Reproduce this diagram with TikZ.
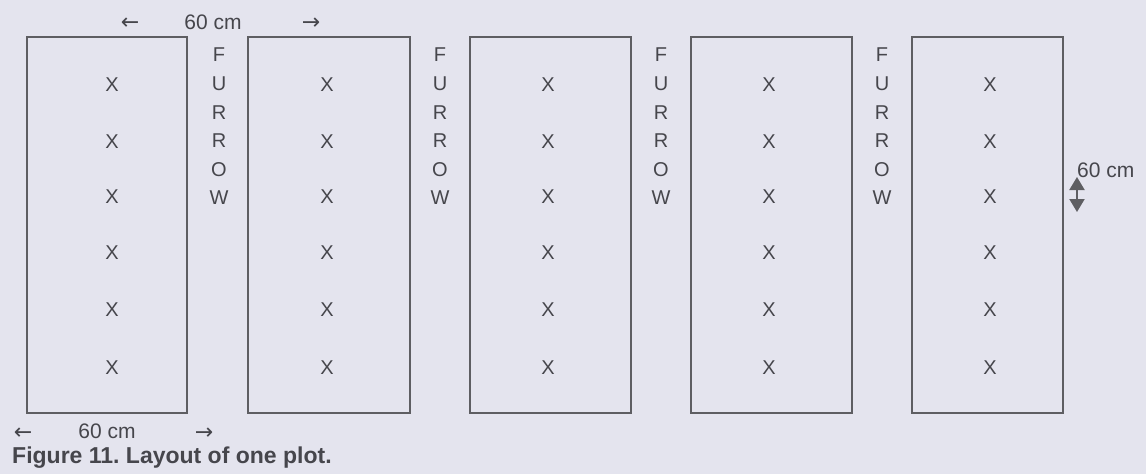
\documentclass[tikz,border=0pt]{standalone}
\usepackage{fontspec}
\setmainfont{Liberation Sans}
\newfontfamily\arrowfont{DejaVu Sans}
\usetikzlibrary{arrows.meta}
\definecolor{bg}{HTML}{E4E4EE}
\definecolor{ln}{HTML}{5E5E62}
\definecolor{tx}{HTML}{46464C}
\begin{document}
\frenchspacing
\begin{tikzpicture}[x=1pt,y=-1pt,
  plotbox/.style={draw=ln,line width=1.8pt,inner sep=0pt,minimum height=376pt},
  xmarktxt/.style={text=tx,font=\fontsize{20}{22}\selectfont,inner sep=0pt},
  furrowtxt/.style={text=tx,font=\fontsize{20}{28.6}\selectfont,align=center,inner sep=0pt,anchor=north},
  lbl/.style={text=tx,font=\fontsize{21}{24}\selectfont,inner sep=0pt},
  arr/.style={text=tx,font=\arrowfont\fontsize{22}{24}\selectfont,inner sep=0pt},
  captiontxt/.style={text=tx,font=\bfseries\fontsize{23}{26}\selectfont,inner sep=0pt,anchor=west}]
\fill[bg] (0,0) rectangle (1146,474);
\useasboundingbox (0,0) rectangle (1146,474);
% plots
\node[plotbox,minimum width=160pt] (p1) at (107,225) {};
\node[plotbox,minimum width=162pt] (p2) at (329,225) {};
\node[plotbox,minimum width=161pt] (p3) at (550.5,225) {};
\node[plotbox,minimum width=161pt] (p4) at (771.5,225) {};
\node[plotbox,minimum width=151pt] (p5) at (987.5,225) {};
% X marks
\foreach \c/\xx in {1/112,2/327,3/548,4/769,5/990}{
  \foreach \r/\yy in {1/85,2/142,3/197,4/253,5/310,6/368}{
    \node[xmarktxt] (x\c\r) at (\xx,\yy) {X};
  }
}
% furrows
\foreach \f/\xx in {1/219,2/440,3/661,4/882}{
  \node[furrowtxt] (f\f) at (\xx,48) {F\\U\\R\\R\\O\\W};
}
% top dimension
\node[lbl] (topdim) at (213,22) {60 cm};
\node[arr] (tl) at (130,24) {←};
\node[arr] (tr) at (311,24) {→};
% bottom dimension
\node[lbl] (botdim) at (107,431) {60 cm};
\node[arr] (bl) at (23,434) {←};
\node[arr] (br) at (204,434) {→};
% right dimension
\node[lbl,anchor=west] (rdim) at (1077,170) {60 cm};
\coordinate (ra) at (1077,177);
\coordinate (rb) at (1077,212);
\draw[ln,line width=2pt,{Triangle[length=13pt,width=15pt]}-{Triangle[length=13pt,width=15pt]}] (ra) -- (rb);
% caption
\node[captiontxt] (caption) at (12,458) {Figure 11. Layout of one plot.};
\end{tikzpicture}
\end{document}
